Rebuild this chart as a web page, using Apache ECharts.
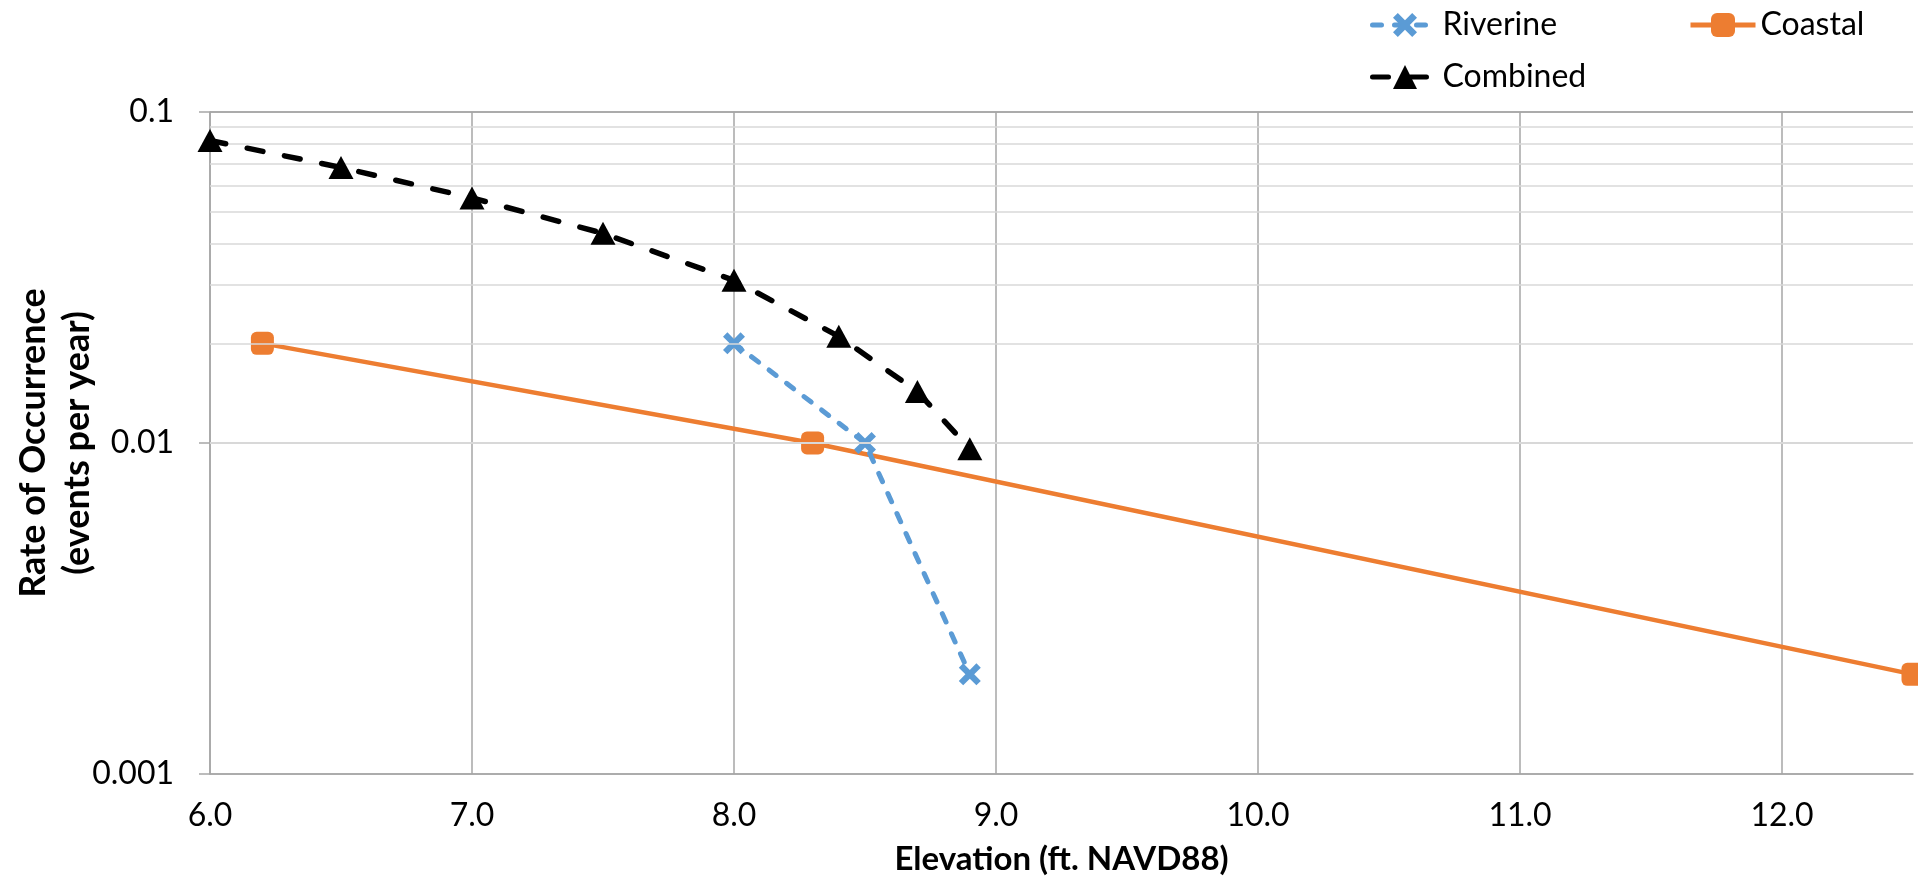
<!DOCTYPE html>
<html>
<head>
<meta charset="utf-8">
<script src="https://cdn.jsdelivr.net/npm/echarts@6/dist/echarts.min.js"></script>
<style>
  html, body { margin: 0; padding: 0; background: #fff; }
  #chart { width: 1918px; height: 890px; }
</style>
</head>
<body>
<div id="chart"></div>
<script>
// ---- data ----
const riverineX = [8.0, 8.5, 8.9];
const riverineY = [0.02, 0.01, 0.002];
const coastalX = [6.2, 8.3, 12.5];
const coastalY = [0.02, 0.01, 0.002];
const combinedX = [6.0, 6.5, 7.0, 7.5, 8.0, 8.4, 8.7, 8.9];
const combinedY = [0.082, 0.068, 0.055, 0.043, 0.031, 0.021, 0.0143, 0.0096];
const yTickLabels = ['0.001', '0.01', '0.1'];
const minorGridValues = [0.002, 0.003, 0.004, 0.005, 0.006, 0.007, 0.008, 0.009,
                         0.02, 0.03, 0.04, 0.05, 0.06, 0.07, 0.08, 0.09];

const pairs = (xs, ys) => xs.map((x, i) => [x, ys[i]]);

const FONT = 'Lato';
const xPath = 'path://M0,4 L4,0 L10,6 L16,0 L20,4 L14,10 L20,16 L16,20 L10,14 L4,20 L0,16 L6,10 Z';

const chart = echarts.init(document.getElementById('chart'), null, { renderer: 'canvas' });

const legendBase = {
  orient: 'horizontal',
  itemWidth: 65,
  itemHeight: 30,
  selectedMode: false,
  lineStyle: { width: 5 },
  textStyle: { fontFamily: FONT, fontSize: 32, color: '#000', padding: [0, 0, 0, 0] }
};

const option = {
  backgroundColor: '#ffffff',
  animation: false,
  grid: { left: 210, right: 5, top: 112, bottom: 116, containLabel: false, outerBoundsMode: 'none' },
  legend: [
    Object.assign({}, legendBase, { data: ['Riverine'], left: 1365, top: 4 }),
    Object.assign({}, legendBase, { data: ['Coastal'], left: 1683, top: 4 }),
    Object.assign({}, legendBase, { data: ['Combined'], left: 1365, top: 56 })
  ],
  xAxis: {
    type: 'value',
    min: 6,
    max: 12.5,
    interval: 1,
    name: 'Elevation (ft. NAVD88)',
    nameLocation: 'middle',
    nameGap: 69,
    nameMoveOverlap: false,
    nameTextStyle: { fontFamily: FONT, fontSize: 33, fontWeight: 'bold', color: '#000' },
    axisLine: { show: true, lineStyle: { color: '#a6a6a6', width: 1.5 } },
    axisTick: { show: false },
    axisLabel: {
      fontFamily: FONT, fontSize: 32, color: '#000', margin: 26,
      showMaxLabel: false,
      formatter: v => v.toFixed(1)
    },
    splitLine: { show: true, showMaxLine: false, lineStyle: { color: '#a6a6a6', width: 1.5 } }
  },
  yAxis: {
    type: 'log',
    logBase: 10,
    min: 0.001,
    max: 0.1,
    name: 'Rate of Occurrence\n(events per year)',
    nameLocation: 'middle',
    nameRotate: 90,
    nameGap: 111,
    nameMoveOverlap: false,
    nameTextStyle: { fontFamily: FONT, fontSize: 36, fontWeight: 'bold', color: '#000', lineHeight: 44 },
    axisLine: { show: true, lineStyle: { color: '#a6a6a6', width: 1.5 } },
    axisTick: { show: true, length: 11, lineStyle: { color: '#a6a6a6', width: 1.5 } },
    axisLabel: {
      fontFamily: FONT, fontSize: 32, color: '#000', margin: 36,
      formatter: (v, i) => yTickLabels[i] !== undefined ? yTickLabels[i] : ''
    },
    splitLine: { show: true, lineStyle: { color: '#a6a6a6', width: 1.5 } }
  },
  series: [
    {
      name: 'minor-grid',
      type: 'line',
      data: [],
      z: -1,
      silent: true,
      markLine: {
        silent: true,
        symbol: 'none',
        label: { show: false },
        lineStyle: { color: '#d9d9d9', width: 1.5, type: 'solid' },
        data: minorGridValues.map(v => ({ yAxis: v }))
      }
    },
    {
      name: 'Coastal',
      type: 'line',
      data: pairs(coastalX, coastalY),
      symbol: 'roundRect',
      symbolSize: 23,
      showAllSymbol: true,
      lineStyle: { color: '#ED7D31', width: 4.5, type: 'solid' },
      itemStyle: { color: '#ED7D31' },
      z: 3
    },
    {
      name: 'Riverine',
      type: 'line',
      data: pairs(riverineX, riverineY),
      symbol: xPath,
      symbolSize: 22,
      showAllSymbol: true,
      lineStyle: { color: '#5B9BD5', width: 5, type: [9, 13], cap: 'round' },
      itemStyle: { color: '#5B9BD5' },
      z: 4
    },
    {
      name: 'Combined',
      type: 'line',
      data: pairs(combinedX, combinedY),
      symbol: 'triangle',
      symbolSize: [25, 23],
      showAllSymbol: true,
      lineStyle: { color: '#000000', width: 5.5, type: [16, 22], cap: 'round' },
      itemStyle: { color: '#000000' },
      z: 5
    }
  ]
};

chart.setOption(option);
</script>
</body>
</html>
